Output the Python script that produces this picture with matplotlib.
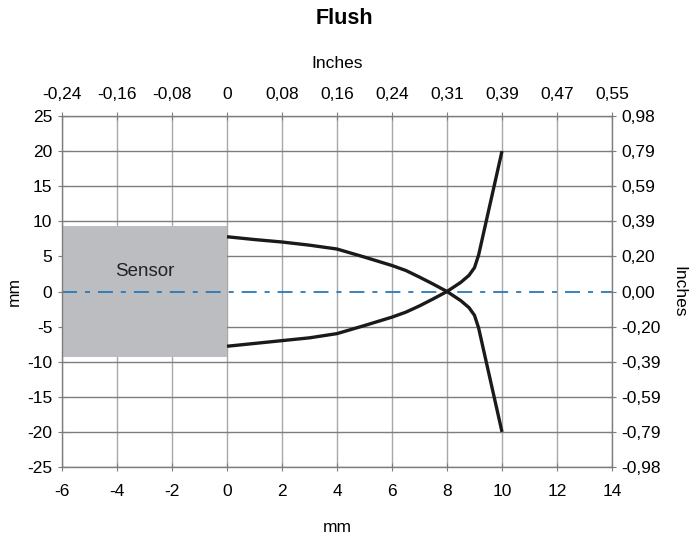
import matplotlib
matplotlib.use("Agg")
import matplotlib.pyplot as plt
from matplotlib import font_manager

names = {f.name for f in font_manager.fontManager.ttflist}
fam = ["Liberation Sans Narrow", "Liberation Sans", "DejaVu Sans"]
fam = [f for f in fam if f in names] + ["DejaVu Sans"]
plt.rcParams['font.family'] = fam

# Data
mm_x_ticks = [-6, -4, -2, 0, 2, 4, 6, 8, 10, 12, 14]
inch_x_labels = ["-0,24", "-0,16", "-0,08", "0", "0,08", "0,16", "0,24", "0,31", "0,39", "0,47", "0,55"]
mm_y_ticks = [-25, -20, -15, -10, -5, 0, 5, 10, 15, 20, 25]
inch_y_labels = ["-0,98", "-0,79", "-0,59", "-0,39", "-0,20", "0,00", "0,20", "0,39", "0,59", "0,79", "0,98"]

curve_a_x = [0, 1, 2, 3, 4, 5, 6, 6.5, 7, 7.5, 8, 8.5, 8.8, 9.0, 9.15, 10]
curve_a_y = [7.8, 7.4, 7.05, 6.6, 6.05, 4.9, 3.7, 3.0, 2.05, 1.05, 0, -1.3, -2.3, -3.4, -5.2, -20]
curve_b_x = [0, 1, 2, 3, 4, 5, 6, 6.5, 7, 7.5, 8, 8.5, 8.8, 9.0, 9.15, 10]
curve_b_y = [-7.8, -7.4, -7.0, -6.6, -6.0, -4.85, -3.65, -2.95, -2.05, -1.05, 0, 1.3, 2.3, 3.4, 5.2, 20]

sensor_x = [-6, 0]
sensor_y = [-9.3, 9.3]

fig = plt.figure(figsize=(6.89, 5.40), dpi=100)
ax = fig.add_axes([62/689, 1-467/540, 550/689, 351/540])

fs = 12.5
grid_h = "#7d7d7d"
grid_v = "#a8a8a8"
ax.set_xlim(-6, 14)
ax.set_ylim(-25, 25)
ax.set_xticks(mm_x_ticks)
ax.set_yticks(mm_y_ticks)
ax.xaxis.grid(True, color=grid_v, lw=1.0)
ax.yaxis.grid(True, color=grid_h, lw=1.0)
ax.set_axisbelow(True)
for s in ax.spines.values():
    s.set_color(grid_h)
    s.set_linewidth(1.0)
ax.tick_params(axis="x", direction="inout", length=6, color=grid_h, labelsize=fs, pad=9)
ax.tick_params(axis="y", direction="inout", length=6, color=grid_h, labelsize=fs, pad=4)

# no grey gridline at y = 0 (the blue axis line sits there)
for val, gl in zip(mm_y_ticks, ax.yaxis.get_gridlines()):
    if val == 0:
        gl.set_visible(False)

ax.fill_between(sensor_x, sensor_y[0], sensor_y[1], color="#bcbdc1", lw=0, zorder=1.5)
ax.text(-3, 2.8, "Sensor", ha="center", va="center", fontsize=fs + 1, color="#222222", zorder=3)

ax.axhline(0, color="#2878b8", lw=1.3, dashes=(8.3, 4.4, 2.8, 4.4), zorder=2)

ax.plot(curve_a_x, curve_a_y, color="#1a1a1a", lw=2.4, zorder=4, solid_capstyle="butt")
ax.plot(curve_b_x, curve_b_y, color="#1a1a1a", lw=2.4, zorder=4, solid_capstyle="butt")

ax.set_xticklabels([str(v) for v in mm_x_ticks])
ax.set_yticklabels([str(v) for v in mm_y_ticks])
ax.set_xlabel("mm", fontsize=fs, labelpad=15)
ax.set_ylabel("mm", fontsize=fs, labelpad=4)

axt = ax.twiny()
axt.set_xlim(ax.get_xlim())
axt.set_xticks(mm_x_ticks)
axt.set_xticklabels(inch_x_labels)
axt.tick_params(direction="inout", length=6, color=grid_h, labelsize=fs, pad=7)
axt.set_xlabel("Inches", fontsize=fs, labelpad=14)
for s in axt.spines.values():
    s.set_visible(False)

axr = ax.twinx()
axr.set_ylim(ax.get_ylim())
axr.set_yticks(mm_y_ticks)
axr.set_yticklabels(inch_y_labels)
axr.tick_params(direction="inout", length=6, color=grid_h, labelsize=fs, pad=4)
axr.set_ylabel("Inches", fontsize=fs, rotation=270, labelpad=18)
for s in axr.spines.values():
    s.set_visible(False)

fig.text(0.5, 1 - 18/540, "Flush", ha="center", va="center", fontsize=fs + 3, fontweight="bold",
         family=["Liberation Sans", "DejaVu Sans"])

fig.savefig("out.png", dpi=100)
